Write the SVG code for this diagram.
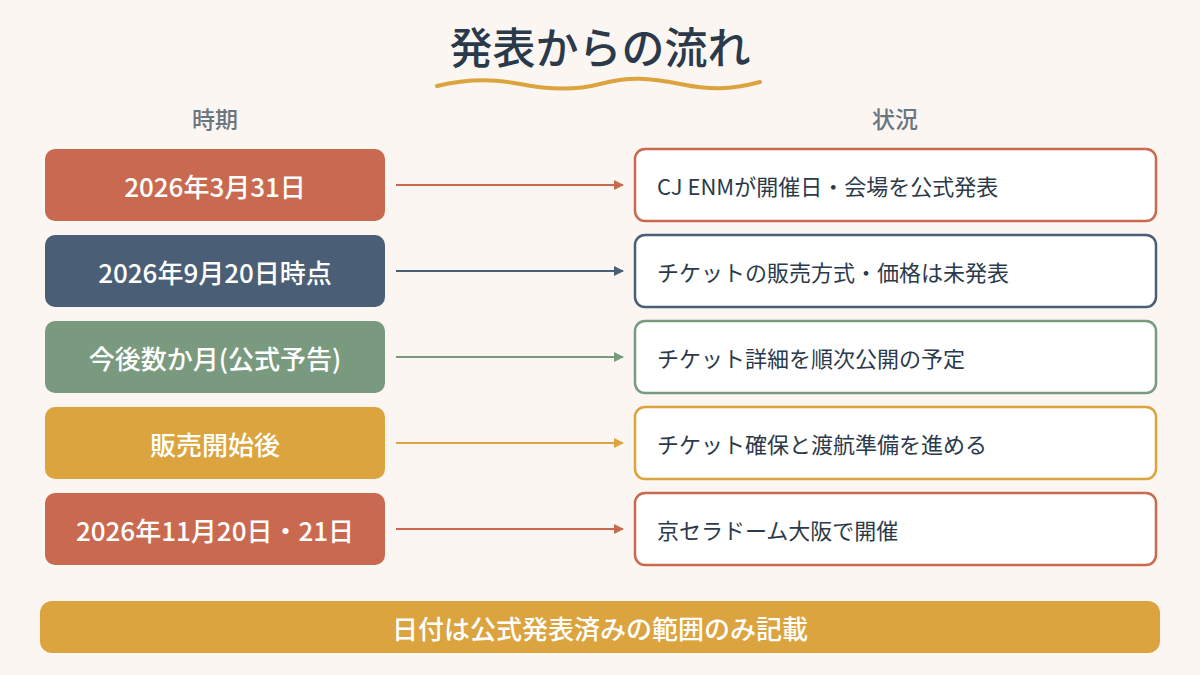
<svg xmlns="http://www.w3.org/2000/svg" width="1200" height="675" viewBox="0 0 1200 675">
<defs>
<style>
text{font-family:"Noto Sans CJK JP","Noto Sans",sans-serif}
.l{fill:#fff;font-size:26px;font-weight:500;text-anchor:middle;dominant-baseline:central}
.r{fill:#2B3A4A;font-size:22px;dominant-baseline:central}
.h{fill:#6A7580;font-size:23px;font-weight:500;text-anchor:middle}
.rb{fill:#fff;stroke-width:2.5}
</style>
<marker id="a1" viewBox="0 0 10 10" refX="9" refY="5" markerWidth="10" markerHeight="10" orient="auto" markerUnits="userSpaceOnUse"><path d="M0,0L10,5L0,10z" fill="#C96A50"/></marker>
<marker id="a2" viewBox="0 0 10 10" refX="9" refY="5" markerWidth="10" markerHeight="10" orient="auto" markerUnits="userSpaceOnUse"><path d="M0,0L10,5L0,10z" fill="#4A5F75"/></marker>
<marker id="a3" viewBox="0 0 10 10" refX="9" refY="5" markerWidth="10" markerHeight="10" orient="auto" markerUnits="userSpaceOnUse"><path d="M0,0L10,5L0,10z" fill="#7A9A80"/></marker>
<marker id="a4" viewBox="0 0 10 10" refX="9" refY="5" markerWidth="10" markerHeight="10" orient="auto" markerUnits="userSpaceOnUse"><path d="M0,0L10,5L0,10z" fill="#DBA43F"/></marker>
</defs>
<rect width="1200" height="675" fill="#FBF6F2"/>
<text x="600" y="64" text-anchor="middle" font-size="43" font-weight="500" fill="#2B3A4A">発表からの流れ</text>
<path d="M437,86 C470,78 500,80 520,84 S570,92 600,84 S650,78 680,84 S730,90 760,82" fill="none" stroke="#DBA43F" stroke-width="4" stroke-linecap="round"/>
<text class="h" x="215" y="128">時期</text>
<text class="h" x="895" y="128">状況</text>
<g id="connectors" stroke-width="2">
<line x1="396" y1="185" x2="623" y2="185" stroke="#C96A50" marker-end="url(#a1)"/>
<line x1="396" y1="271" x2="623" y2="271" stroke="#4A5F75" marker-end="url(#a2)"/>
<line x1="396" y1="357" x2="623" y2="357" stroke="#7A9A80" marker-end="url(#a3)"/>
<line x1="396" y1="443" x2="623" y2="443" stroke="#DBA43F" marker-end="url(#a4)"/>
<line x1="396" y1="529" x2="623" y2="529" stroke="#C96A50" marker-end="url(#a1)"/>
</g>
<g id="p1"><rect x="45" y="149" width="340" height="72" rx="10" fill="#C96A50"/><text class="l" x="215" y="185">2026年3月31日</text></g>
<g id="p2"><rect x="45" y="235" width="340" height="72" rx="10" fill="#4A5F75"/><text class="l" x="215" y="271">2026年9月20日時点</text></g>
<g id="p3"><rect x="45" y="321" width="340" height="72" rx="10" fill="#7A9A80"/><text class="l" x="215" y="357" font-size="23">今後数か月(公式予告)</text></g>
<g id="p4"><rect x="45" y="407" width="340" height="72" rx="10" fill="#DBA43F"/><text class="l" x="215" y="443">販売開始後</text></g>
<g id="p5"><rect x="45" y="493" width="340" height="72" rx="10" fill="#C96A50"/><text class="l" x="215" y="529" font-size="23">2026年11月20日・21日</text></g>
<g id="s1"><rect class="rb" x="635" y="149" width="521" height="72" rx="10" stroke="#C96A50"/><text class="r" x="657" y="185">CJ ENMが開催日・会場を公式発表</text></g>
<g id="s2"><rect class="rb" x="635" y="235" width="521" height="72" rx="10" stroke="#4A5F75"/><text class="r" x="657" y="271">チケットの販売方式・価格は未発表</text></g>
<g id="s3"><rect class="rb" x="635" y="321" width="521" height="72" rx="10" stroke="#7A9A80"/><text class="r" x="657" y="357">チケット詳細を順次公開の予定</text></g>
<g id="s4"><rect class="rb" x="635" y="407" width="521" height="72" rx="10" stroke="#DBA43F"/><text class="r" x="657" y="443">チケット確保と渡航準備を進める</text></g>
<g id="s5"><rect class="rb" x="635" y="493" width="521" height="72" rx="10" stroke="#C96A50"/><text class="r" x="657" y="529">京セラドーム大阪で開催</text></g>
<g id="note"><rect x="40" y="601" width="1120" height="52" rx="12" fill="#DBA43F"/><text class="l" x="600" y="627" font-size="24">日付は公式発表済みの範囲のみ記載</text></g>
</svg>
